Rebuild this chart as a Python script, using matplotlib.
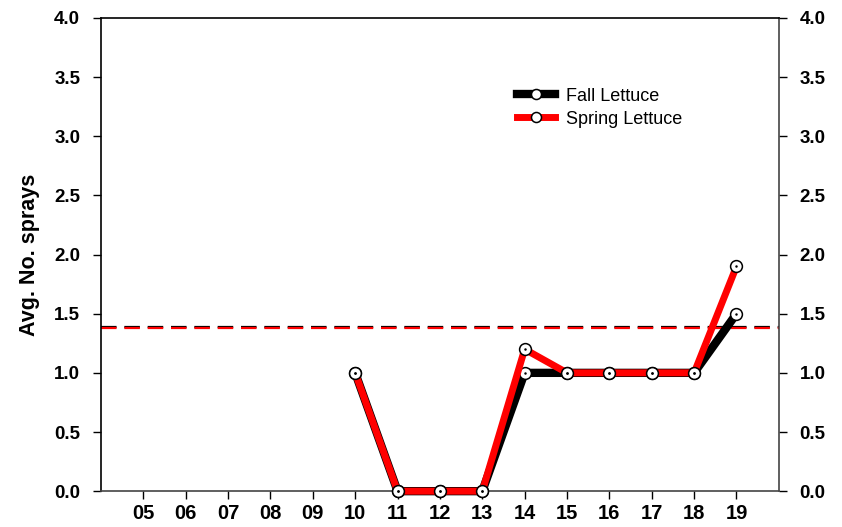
import numpy as np
import matplotlib.pyplot as plt

plt.rcParams['font.family'] = ['Liberation Sans', 'DejaVu Sans']

# data
years = ["05", "06", "07", "08", "09", "10", "11", "12", "13", "14", "15", "16", "17", "18", "19"]
year_nums = [5, 6, 7, 8, 9, 10, 11, 12, 13, 14, 15, 16, 17, 18, 19]
data_years = [10, 11, 12, 13, 14, 15, 16, 17, 18, 19]
fall_sprays = [1.0, 0.0, 0.0, 0.0, 1.0, 1.0, 1.0, 1.0, 1.0, 1.5]
spring_sprays = [1.0, 0.0, 0.0, 0.0, 1.2, 1.0, 1.0, 1.0, 1.0, 1.9]
fall_avg = 1.39
spring_avg = 1.375
y_ticks = [0.0, 0.5, 1.0, 1.5, 2.0, 2.5, 3.0, 3.5, 4.0]

fig = plt.figure(figsize=(8.42, 5.27), dpi=100)
ax = fig.add_axes([0.12, 0.068, 0.805, 0.898])

ax.axhline(fall_avg, color='black', lw=1.6, ls=(0, (7, 3.5)), zorder=2)
ax.axhline(spring_avg, color='red', lw=1.6, ls=(0, (7, 3.5)), zorder=2)

marker_style = dict(marker='o', markersize=8.5, markerfacecolor='white',
                    markeredgecolor='black', markeredgewidth=1.1)
ax.plot(data_years, fall_sprays, color='black', lw=6, label='Fall Lettuce',
        zorder=3, clip_on=False, **marker_style)
ax.plot(data_years, spring_sprays, color='red', lw=5, label='Spring Lettuce',
        zorder=4, clip_on=False, **marker_style)
# tiny center dots like the original markers
ax.scatter(data_years, fall_sprays, s=0.6, color='black', zorder=5, clip_on=False)
ax.scatter(data_years, spring_sprays, s=0.6, color='black', zorder=5, clip_on=False)

ax.set_xlim(4, 20)
ax.set_ylim(0, 4)
ax.set_xticks(year_nums)
ax.set_xticklabels(years)
ax.set_yticks(y_ticks)
ax.set_yticklabels([f"{v:.1f}" for v in y_ticks])

ax.tick_params(axis='x', direction='out', length=6, width=1, pad=3, labelsize=14.5)
ax.tick_params(axis='y', direction='out', length=6, width=1, pad=9, labelsize=13.5,
               right=True, labelright=True)
for t in ax.xaxis.get_major_ticks() + ax.yaxis.get_major_ticks():
    t.label1.set_fontweight('bold')
    t.label2.set_fontweight('bold')

ax.spines['right'].set_color('#444444')
ax.spines['bottom'].set_color('#444444')
for s in ax.spines.values():
    s.set_linewidth(1.2)

ax.set_ylabel('Avg. No. sprays', fontsize=15.5, fontweight='bold', labelpad=10)

leg = ax.legend(loc='upper left', bbox_to_anchor=(0.603, 0.868), frameon=False,
                fontsize=13, handlelength=2.1, handletextpad=0.6,
                labelspacing=0.33, borderaxespad=0, markerscale=0.85)

plt.savefig("out.png", dpi=100)
